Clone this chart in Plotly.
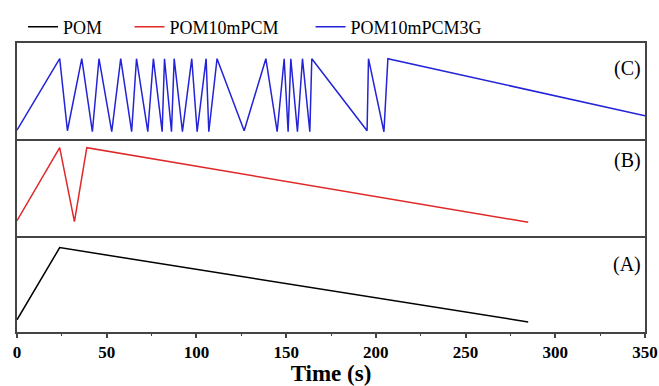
import plotly.graph_objects as go
from plotly.subplots import make_subplots

# ---- data ----
series_names = ["POM", "POM10mPCM", "POM10mPCM3G"]
series_colors = ["#000000", "#e02828", "#2323d8"]
panel_labels = ["(C)", "(B)", "(A)"]
x_tick_vals = [0, 50, 100, 150, 200, 250, 300, 350]
x_tick_text = ["0", "50", "100", "150", "200", "250", "300", "350"]

time_a = [0, 23.8, 284.9]
temp_a = [12.7, 87.6, 10.4]

time_b = [0, 23.8, 32.0, 38.9, 284.9]
temp_b = [15.6, 91.3, 14.5, 91.3, 13.9]

time_c = [0, 23.8, 28.1, 36.1, 42.0, 45.7, 52.8, 57.8, 63.9, 66.6, 72.9, 76.0,
          80.9, 82.2, 86.1, 87.6, 92.2, 97.4, 100.4, 105.4, 106.9, 111.5, 126.6,
          138.7, 145.0, 148.9, 151.1, 152.6, 156.3, 159.1, 163.2, 164.3, 195.1,
          195.9, 204.5, 206.7, 350]
temp_c = [9.6, 83.7, 8.9, 83.7, 7.9, 83.7, 7.9, 83.7, 7.9, 83.7, 7.9, 83.7,
          7.9, 83.7, 7.9, 83.7, 7.9, 83.7, 7.9, 83.7, 7.9, 83.7, 8.9,
          83.7, 7.9, 83.7, 7.9, 83.7, 7.9, 83.7, 7.9, 83.7, 8.9,
          83.7, 7.9, 83.7, 24.4]

FONT = "Liberation Serif"
NB = "\u00a0"

fig = make_subplots(rows=3, cols=1, shared_xaxes=True, vertical_spacing=0)

fig.add_trace(go.Scatter(x=time_a, y=temp_a, mode="lines", name=series_names[0] + NB * 5,
                         line=dict(color=series_colors[0], width=1.5)), row=3, col=1)
fig.add_trace(go.Scatter(x=time_b, y=temp_b, mode="lines", name=series_names[1] + NB * 6,
                         line=dict(color=series_colors[1], width=1.5)), row=2, col=1)
fig.add_trace(go.Scatter(x=time_c, y=temp_c, mode="lines", name=series_names[2],
                         line=dict(color=series_colors[2], width=1.5)), row=1, col=1)

line_style = dict(showline=True, linecolor="#444", linewidth=1.5,
                  showgrid=False, zeroline=False)

for r in (1, 2, 3):
    fig.update_yaxes(range=[0, 100], showticklabels=False, ticks="", mirror=True,
                     row=r, col=1, **line_style)
    fig.update_xaxes(range=[0, 350], mirror=(r == 1), row=r, col=1, **line_style)

fig.update_xaxes(showticklabels=False, ticks="", row=1, col=1)
fig.update_xaxes(showticklabels=False, ticks="", row=2, col=1)
fig.update_xaxes(row=3, col=1, tickvals=x_tick_vals,
                 ticktext=["<b>%s</b>" % t for t in x_tick_text],
                 ticks="outside", ticklen=4,
                 tickwidth=1.5, tickcolor="#444", automargin=False,
                 minor=dict(dtick=25, tick0=0, ticks="outside", ticklen=2.5, tickwidth=1.2, tickcolor="#444"),
                 tickfont=dict(family=FONT, size=17, color="#000"),
                 title=dict(text="<b>Time (s)</b>", font=dict(family=FONT, size=23, color="#000"),
                            standoff=5))

label_y = [0.911, 0.593, 0.232]
for lab, yy in zip(panel_labels, label_y):
    fig.add_annotation(text=lab, xref="paper", yref="paper", x=0.997, y=yy,
                       xanchor="right", yanchor="middle", showarrow=False,
                       font=dict(family=FONT, size=20, color="#000"))

fig.update_layout(
    width=659, height=386,
    margin=dict(l=17, r=14, t=43, b=54, autoexpand=False),
    paper_bgcolor="white", plot_bgcolor="white",
    font=dict(family=FONT, color="#000"),
    showlegend=True,
    legend=dict(orientation="h", xref="paper", yref="paper",
                x=6 / 628, xanchor="left", y=1 + (43 - 27) / 289, yanchor="middle",
                font=dict(family=FONT, size=18, color="#000"),
                bgcolor="rgba(0,0,0,0)"),
)

fig.write_html("out.html")
